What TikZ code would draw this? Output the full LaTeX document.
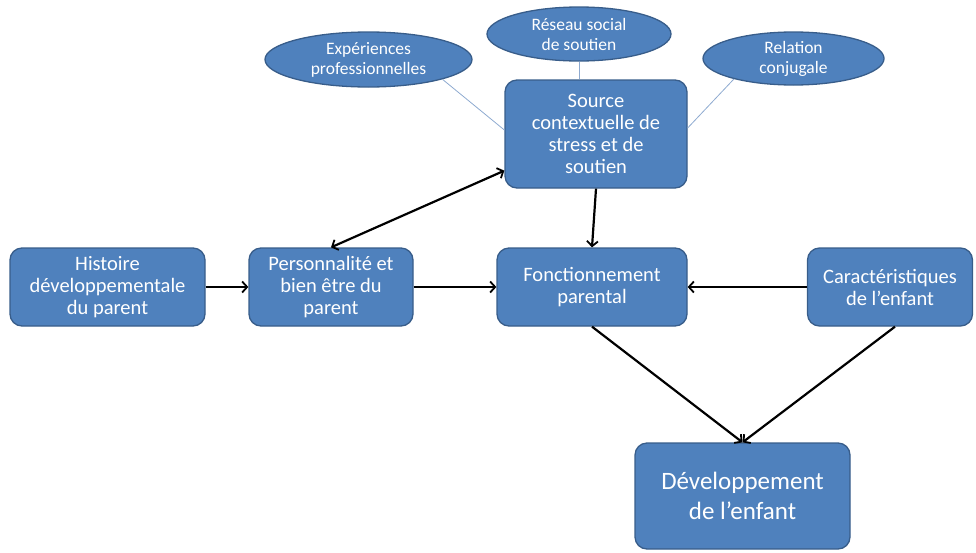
\documentclass[tikz,border=0pt]{standalone}
\usepackage{fontspec}
\setmainfont{Carlito}
\usetikzlibrary{arrows.meta,shapes.geometric,calc}
\definecolor{boxfill}{HTML}{4F81BD}
\definecolor{boxline}{HTML}{385D8A}
\definecolor{thinline}{HTML}{8EAAD0}
\tikzset{
  box/.style={rectangle, rounded corners=12pt, fill=boxfill, draw=boxline,
    line width=1.3pt, text=white, align=center, inner sep=2pt},
  mainfont/.style={font=\fontsize{20.5}{22}\selectfont},
  oval/.style={ellipse, fill=boxfill, draw=boxline, line width=1.3pt,
    text=white, align=center, inner sep=0pt,
    font=\fontsize{17.5}{20}\selectfont},
  link/.style={draw=thinline, line width=0.8pt},
  flow/.style={draw=black, line width=2.2pt,
    -{Straight Barb[length=5pt,width=11pt,line width=1.8pt]}},
  both/.style={draw=black, line width=2.2pt,
    {Straight Barb[length=5pt,width=11pt,line width=1.8pt]}-{Straight Barb[length=5pt,width=11pt,line width=1.8pt]}}
}
\begin{document}
\begin{tikzpicture}[x=1pt,y=-1pt]
\useasboundingbox (0,0) rectangle (976,552);

% rounded boxes of the model
\node[box, mainfont, minimum width=195pt, minimum height=78pt] (hist) at (107.5,287)
  {Histoire\\développementale\\du parent};
\node[box, mainfont, minimum width=164pt, minimum height=78pt] (pers) at (331,287)
  {Personnalité et\\bien être du\\parent};
\node[box, mainfont, minimum width=190pt, minimum height=78pt] (fonc) at (592,287)
  {Fonctionnement\\parental};
\node[box, mainfont, minimum width=165pt, minimum height=78pt] (cara) at (890,287)
  {Caractéristiques\\de l’enfant};
\node[box, mainfont, minimum width=182pt, minimum height=108pt] (src) at (596,134)
  {Source\\contextuelle de\\stress et de\\soutien};
\node[box, font=\fontsize{25}{30}\selectfont, minimum width=215pt, minimum height=106pt] (dev) at (742.5,496)
  {Développement\\de l’enfant};

% ellipses around the context source
\node[oval, minimum width=207pt, minimum height=55pt] (exp) at (368.5,59.5)
  {Expériences\\professionnelles};
\node[oval, minimum width=184pt, minimum height=54pt] (res) at (579,34)
  {Réseau social\\de soutien};
\node[oval, minimum width=181pt, minimum height=53pt] (rel) at (793.5,58.5)
  {Relation\\conjugale};

% thin links from ellipses
\draw[link] (exp.-15) -- ($(src.west)+(0,-4)$);
\draw[link] (res.south) -- (res.south |- src.north);
\draw[link] (rel.-161) -- ($(src.east)+(0,-6)$);

% arrows
\draw[flow] (hist.east) -- (pers.west);
\draw[flow] (pers.east) -- (fonc.west);
\draw[flow] (cara.west) -- (fonc.east);
\draw[flow] (src.south) -- (fonc.north);
\draw[both] (pers.north) -- ($(src.south west)+(0,-18)$);
\draw[flow] (fonc.south) -- (dev.north);
\draw[flow] ($(cara.south)+(5,0)$) -- (dev.north);
\end{tikzpicture}
\end{document}
